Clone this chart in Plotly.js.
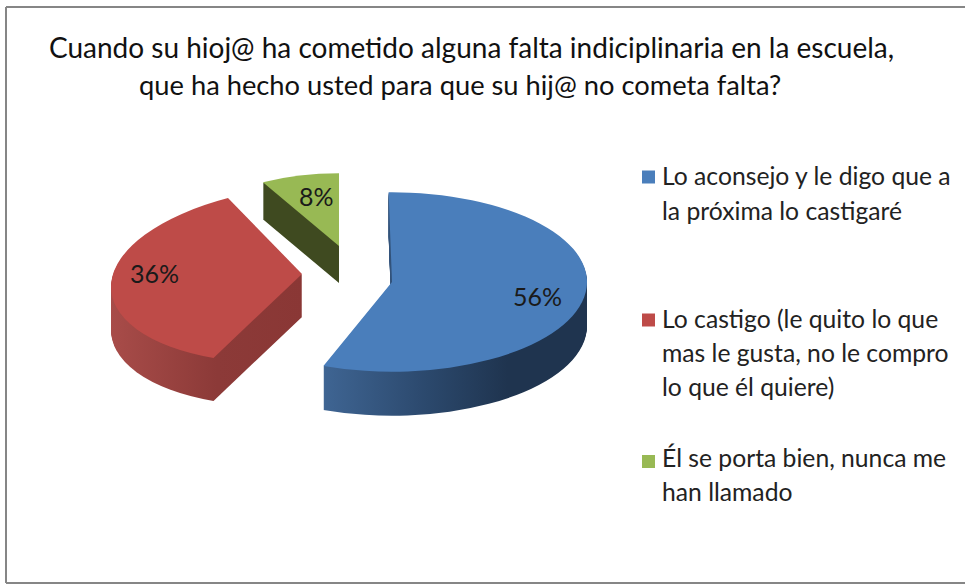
<!DOCTYPE html>
<html><head><meta charset="utf-8">
<script src="https://cdn.plot.ly/plotly-3.0.1.min.js"></script>
<style>html,body{margin:0;padding:0;background:#fff}#c{width:965px;height:585px}</style></head>
<body><div id="c"></div>
<script>
const categories = ["Lo aconsejo y le digo que a<br>la próxima lo castigaré",
  "Lo castigo (le quito lo que<br>mas le gusta, no le compro<br>lo que él quiere)",
  "Él se porta bien, nunca me<br>han llamado"];
const values = [56, 36, 8];
const percentLabels = ["56%", "36%", "8%"];
const topColors = ["#4a7ebb", "#be4b48", "#98b954"];
const titleLines = ["Cuando su hioj@ ha cometido alguna falta indiciplinaria en la escuela,",
  "que ha hecho usted para que su hij@ no cometa falta?"];

const W = 965, H = 585, squash = 0.46, pivotY = 280;
const FONT = "Lato, Carlito, Calibri, sans-serif";
// placement of each exploded wedge on the page
const wedges = [
  {i:2, cx:339, cy:246, r:158, depth:37, rot:0, skew:0, grad:[[0,"#3f4a20"],[1,"#3f4a20"]]},
  {i:1, cx:302, cy:274, r:191, depth:43, rot:6, skew:-0.068, x1:111, x2:303, grad:[[0,"#a84c49"],[0.55,"#8c3a38"],[1,"#8a3735"]]},
  {i:0, cx:392, cy:282, r:195, depth:44, rot:-1, skew:0, x1:323, x2:587, grad:[[0,"#3f6593"],[0.4,"#2b486c"],[0.7,"#1f344f"],[1,"#1f344f"]]}
];
const labelPos = [[537,296],[154,273],[316,196]];
const markerY = [177, 320, 461.5];
const legendLineY = [[175.5,210.5],[318.5,352.5,386.5],[457.5,491.5]];

const px = x => x / W, py = y => 1 - y / H;
const unsq = y => pivotY + (y - pivotY) / squash;

function wedgeTrace(w, dy, color) {
  const cy = unsq(w.cy + dy);
  return {
    type: "pie", values: values, labels: categories, sort: false, direction: "clockwise",
    rotation: w.rot, textinfo: "none", hoverinfo: "skip", showlegend: false,
    domain: {x: [px(w.cx - w.r), px(w.cx + w.r)], y: [py(cy + w.r), py(cy - w.r)]},
    marker: {colors: values.map((_, k) => k === w.i ? color : "rgba(0,0,0,0)"), line: {width: 0}}
  };
}
const traces = [], sideIdx = [], owner = [];
wedges.forEach(w => {
  for (let d = w.depth; d >= 1; d--) { sideIdx.push([traces.length, w]); owner.push(w); traces.push(wedgeTrace(w, d, w.grad[0][1])); }
  owner.push(w); traces.push(wedgeTrace(w, 0, topColors[w.i]));
});

const line = (x0,y0,x1,y1) => ({type:"line",xref:"paper",yref:"paper",x0:px(x0),x1:px(x1),y0:py(y0),y1:py(y1),line:{color:"#868686",width:2}});
const shapes = [line(6,7,965,7), line(6,7,6,583), line(6,583,965,583)];
categories.forEach((_, i) => {
  const yc = markerY[i];
  shapes.push({type:"rect",xref:"paper",yref:"paper",x0:px(642),x1:px(655),y0:py(yc-6.5),y1:py(yc+6.5),fillcolor:topColors[i],line:{width:0}});
});
const annotations = [];
categories.forEach((c, i) => c.split("<br>").forEach((t, j) => annotations.push({xref:"paper",yref:"paper",x:px(660),y:py(legendLineY[i][j]),xanchor:"left",yanchor:"middle",
  text:t,align:"left",showarrow:false,font:{family:FONT,size:24.7,color:"#222"}})));
percentLabels.forEach((t, i) => annotations.push({xref:"paper",yref:"paper",x:px(labelPos[i][0]),y:py(labelPos[i][1]),xanchor:"center",yanchor:"middle",
  text:t,showarrow:false,font:{family:FONT,size:25,color:"#1a1a1a"}}));
annotations.push({xref:"paper",yref:"paper",x:px(460),y:py(84.5),xanchor:"center",yanchor:"middle",text:titleLines[1],showarrow:false,font:{family:FONT,size:27.3,color:"#111"}});

const layout = {
  width: W, height: H, margin: {l:0,r:0,t:0,b:0}, paper_bgcolor:"#fff", plot_bgcolor:"#fff", showlegend:false,
  title: {text: titleLines[0], x: 471.5/W, xanchor:"center", y: py(48.5), yanchor:"middle", font:{family:FONT,size:28,color:"#111"}},
  shapes, annotations
};
Plotly.newPlot("c", traces, layout, {displayModeBar:false, staticPlot:true}).then(gd => {
  const svg = gd.querySelector(".main-svg");
  const NS = "http://www.w3.org/2000/svg";
  const defs = svg.querySelector("defs") || svg.insertBefore(document.createElementNS(NS,"defs"), svg.firstChild);
  wedges.forEach(w => {
    const g = document.createElementNS(NS,"linearGradient");
    g.setAttribute("id","side"+w.i); g.setAttribute("gradientUnits","userSpaceOnUse");
    g.setAttribute("x1",w.x1 ?? w.cx-w.r); g.setAttribute("x2",w.x2 ?? w.cx+w.r); g.setAttribute("y1",0); g.setAttribute("y2",0);
    w.grad.forEach(s => { const e=document.createElementNS(NS,"stop"); e.setAttribute("offset",s[0]); e.setAttribute("stop-color",s[1]); g.appendChild(e); });
    defs.appendChild(g);
  });
  const tr = gd.querySelectorAll(".pielayer .trace");
  sideIdx.forEach(([t, w]) => {
    const p = tr[t].querySelectorAll("path.surface")[w.i];
    if (p) p.style.fill = "url(#side"+w.i+")";
  });
  tr.forEach((el, t) => {
    const w = owner[t];
    if (w.skew) { const s = w.skew / squash; el.setAttribute("transform", `matrix(1,${s},0,1,0,${-s*w.cx})`); }
  });
  gd.querySelector(".pielayer").setAttribute("transform", `translate(0,${pivotY*(1-squash)}) scale(1,${squash})`);
});
</script></body></html>
